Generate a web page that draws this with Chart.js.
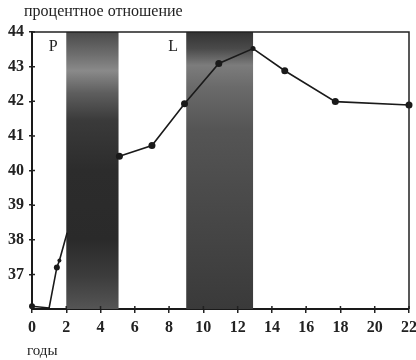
<!DOCTYPE html>
<html>
<head>
<meta charset="utf-8">
<script src="https://cdn.jsdelivr.net/npm/chart.js@4.4.1/dist/chart.umd.min.js"></script>
<style>
  body { margin: 0; background: #fff; }
  canvas { display: block; }
</style>
</head>
<body>
<canvas id="chart" width="416" height="360"></canvas>
<script>
// values
const years = [0, 1.0, 1.45, 1.6, 2.05, 3.5, 5.1, 7.0, 8.9, 10.9, 12.9, 14.75, 17.7, 22];
const percent = [36.08, 36.03, 37.2, 37.4, 38.2, null, 40.41, 40.72, 41.93, 43.09, 43.52, 42.88, 41.99, 41.89];
const markers = [3, 0, 3, 2, 0, 0, 3.5, 3.5, 3.5, 3.5, 2.5, 3.5, 3.5, 3.5];

const bandStarts = [2, 9];
const bandEnds = [5.05, 12.9];
const bandNames = ['P', 'L'];

const xTicks = [0, 2, 4, 6, 8, 10, 12, 14, 16, 18, 20, 22];
const yTicks = [37, 38, 39, 40, 41, 42, 43, 44];

const serif = '"Liberation Serif", "DejaVu Serif", serif';

const bandShades = [
  [[0, '#4a4a4a'], [0.08, '#6d6d6d'], [0.14, '#8a8a8a'], [0.22, '#5e5e5e'], [0.32, '#3a3a3a'],
   [0.5, '#2c2c2c'], [0.75, '#2a2a2a'], [0.88, '#3c3c3c'], [1, '#555']],
  [[0, '#333'], [0.06, '#4a4a4a'], [0.12, '#7c7c7c'], [0.2, '#6a6a6a'], [0.35, '#555'],
   [0.55, '#4c4c4c'], [0.75, '#444'], [1, '#3a3a3a']]
];

const scanPlugin = {
  id: 'scan',
  beforeDatasetsDraw(chart) {
    const { ctx, chartArea: a, scales: { x } } = chart;
    ctx.save();
    bandStarts.forEach((s, i) => {
      const x0 = x.getPixelForValue(s);
      const x1 = x.getPixelForValue(bandEnds[i]);
      const g = ctx.createLinearGradient(0, a.top, 0, a.bottom);
      bandShades[i].forEach(([o, c]) => g.addColorStop(o, c));
      ctx.fillStyle = g;
      ctx.fillRect(x0, a.top, x1 - x0, a.bottom - a.top);
    });
    ctx.restore();
  },
  afterDraw(chart) {
    const { ctx, chartArea: a, scales: { x, y } } = chart;
    ctx.save();
    // top and right frame
    ctx.strokeStyle = '#222';
    ctx.lineWidth = 1.5;
    ctx.beginPath();
    ctx.moveTo(a.left, a.top);
    ctx.lineTo(a.right, a.top);
    ctx.lineTo(a.right, a.bottom);
    ctx.stroke();
    // tick marks poke into the plot too
    ctx.beginPath();
    xTicks.forEach(v => {
      const px = x.getPixelForValue(v);
      ctx.moveTo(px, a.bottom);
      ctx.lineTo(px, a.bottom - 3);
    });
    yTicks.forEach(v => {
      const py = y.getPixelForValue(v);
      ctx.moveTo(a.left, py);
      ctx.lineTo(a.left + 3, py);
    });
    ctx.stroke();

    ctx.fillStyle = '#222';
    ctx.textBaseline = 'middle';
    ctx.textAlign = 'center';
    ctx.font = '16px ' + serif;
    bandNames.forEach((n, i) => {
      const px = x.getPixelForValue(bandStarts[i]) - 13;
      ctx.fillText(n, px, a.top + 15);
    });
    ctx.textAlign = 'left';
    ctx.textBaseline = 'alphabetic';
    ctx.fillText('процентное отношение', 24, 16);
    ctx.font = '15px ' + serif;
    ctx.fillText('годы', 27, 355);
    ctx.restore();
  }
};

new Chart(document.getElementById('chart'), {
  type: 'line',
  data: {
    datasets: [{
      data: years.map((v, i) => ({ x: v, y: percent[i] })),
      borderColor: '#1a1a1a',
      borderWidth: 1.6,
      pointRadius: markers,
      pointBackgroundColor: '#1a1a1a',
      pointBorderColor: '#1a1a1a',
      pointBorderWidth: 0,
      tension: 0,
      spanGaps: false,
      clip: false
    }]
  },
  options: {
    responsive: false,
    animation: false,
    layout: { padding: { top: 32, right: 7, left: 0, bottom: 0 } },
    plugins: { legend: { display: false }, tooltip: { enabled: false } },
    scales: {
      x: {
        type: 'linear',
        min: 0,
        max: 22,
        afterBuildTicks: s => { s.ticks = xTicks.map(v => ({ value: v })); },
        afterFit: s => { s.height = 51; s.paddingLeft = 0; s.paddingRight = 0; },
        grid: { drawOnChartArea: false, drawTicks: true, tickLength: 4, color: '#222', lineWidth: 1.5 },
        border: { display: true, color: '#1a1a1a', width: 2 },
        ticks: { color: '#222', padding: 5, maxRotation: 0, autoSkip: false, font: { family: serif, size: 16, weight: 'bold' } }
      },
      y: {
        type: 'linear',
        min: 36,
        max: 44,
        afterBuildTicks: s => { s.ticks = yTicks.map(v => ({ value: v })); },
        afterFit: s => { s.width = 32; },
        grid: { drawOnChartArea: false, drawTicks: true, tickLength: 3, color: '#222', lineWidth: 1.5 },
        border: { display: true, color: '#1a1a1a', width: 2 },
        ticks: { color: '#222', padding: 5, autoSkip: false, font: { family: serif, size: 16, weight: 'bold' } }
      }
    }
  },
  plugins: [scanPlugin]
});
</script>
</body>
</html>
